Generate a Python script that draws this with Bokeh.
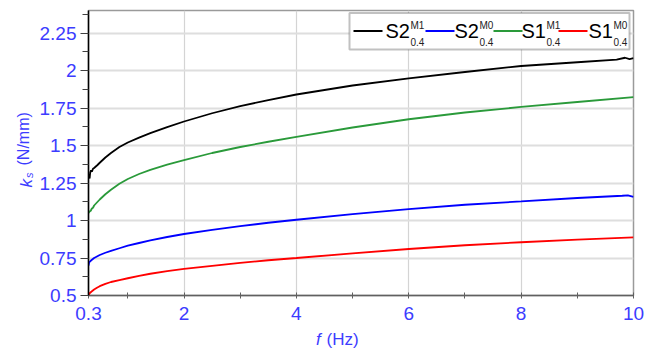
from bokeh.plotting import figure
from bokeh.layouts import column, row
from bokeh.models import (Range1d, FixedTicker, CustomJSTickFormatter, Label,
                          BoxAnnotation, Arrow)
from bokeh.embed import file_html
from bokeh.resources import INLINE
import math

# ---------------- data ----------------
x_black = [0.30, 0.31, 0.32, 0.33, 0.345, 0.36, 0.38, 0.40, 0.43, 0.46, 0.50, 0.60,
           0.70, 0.85, 1.0, 1.2, 1.4, 1.7, 2.0, 2.5, 3.0, 3.5, 4.0, 5.0, 6.0, 7.0,
           8.0, 9.0, 9.7, 9.85, 9.93, 10.0]
y_black = [1.31, 1.30, 1.28, 1.32, 1.335, 1.325, 1.345, 1.35, 1.36, 1.37, 1.385, 1.42,
           1.45, 1.49, 1.52, 1.552, 1.582, 1.623, 1.66, 1.715, 1.762, 1.803, 1.84, 1.90, 1.947, 1.99,
           2.03, 2.055, 2.072, 2.085, 2.076, 2.082]

x_green = [0.30, 0.32, 0.34, 0.36, 0.38, 0.40, 0.45, 0.50, 0.60, 0.70, 0.85, 1.0, 1.2,
           1.4, 1.7, 2.0, 2.5, 3.0, 3.5, 4.0, 5.0, 6.0, 7.0, 8.0, 9.0, 10.0]
y_green = [1.05, 1.06, 1.065, 1.08, 1.085, 1.10, 1.12, 1.14, 1.175, 1.205, 1.245, 1.277, 1.31,
           1.338, 1.372, 1.402, 1.45, 1.49, 1.525, 1.557, 1.62, 1.675, 1.72, 1.757, 1.79, 1.823]

x_blue = [0.30, 0.31, 0.33, 0.35, 0.40, 0.45, 0.50, 0.60, 0.70, 0.85, 1.0, 1.2, 1.4, 1.7,
          2.0, 2.5, 3.0, 3.5, 4.0, 5.0, 6.0, 7.0, 8.0, 9.0, 9.8, 9.9, 10.0]
y_blue = [0.70, 0.72, 0.728, 0.735, 0.75, 0.76, 0.77, 0.785, 0.797, 0.815, 0.832, 0.85, 0.867, 0.89,
          0.91, 0.937, 0.962, 0.985, 1.005, 1.042, 1.076, 1.105, 1.127, 1.15, 1.165, 1.168, 1.158]

x_red = [0.30, 0.32, 0.35, 0.40, 0.45, 0.50, 0.60, 0.70, 0.85, 1.0, 1.2, 1.4, 1.7, 2.0,
         2.5, 3.0, 3.5, 4.0, 5.0, 6.0, 7.0, 8.0, 9.0, 10.0]
y_red = [0.50, 0.515, 0.525, 0.54, 0.552, 0.562, 0.578, 0.59, 0.603, 0.615, 0.631, 0.645, 0.662, 0.677,
         0.698, 0.718, 0.735, 0.75, 0.781, 0.81, 0.835, 0.855, 0.872, 0.888]

series_x = [x_black, x_blue, x_green, x_red]
series_y = [y_black, y_blue, y_green, y_red]
series_colors = ["#000000", "#0000ff", "#2a9a3a", "#ff0000"]
series_names = ["S2", "S2", "S1", "S1"]
series_sup = ["M1", "M0", "M1", "M0"]
series_sub = ["0.4", "0.4", "0.4", "0.4"]

x_ticks = [0.3, 2, 4, 6, 8, 10]
x_minor = [1, 3, 5, 7, 9]
y_ticks = [0.5, 0.75, 1.0, 1.25, 1.5, 1.75, 2.0, 2.25]
y_minor = [0.625, 0.875, 1.125, 1.375, 1.625, 1.875, 2.125, 2.375]
x_lim = (0.3, 10)
y_lim = (0.5, 2.4)

# ---------------- styling / layout ----------------
BLUE = "#3c3cff"
FONT = "Liberation Sans"
W_TOTAL, H_TOTAL = 658, 349
W_YLAB = 36          # strip holding the y-axis title
H_MAIN = 330         # main plot height (x-axis title strip below it)
FL, FT, FR, FB = 86, 10, 633, 295   # frame edges in page pixels

p = figure(width=W_TOTAL - W_YLAB, height=H_MAIN, output_backend="svg", toolbar_location=None,
           x_range=Range1d(*x_lim), y_range=Range1d(*y_lim),
           min_border_left=FL - W_YLAB, min_border_right=W_TOTAL - FR,
           min_border_top=FT, min_border_bottom=H_MAIN - FB)
p.outline_line_color = "#9a9a9a"
p.outline_line_width = 1.5
p.background_fill_color = "white"
p.border_fill_color = "white"

fmt = CustomJSTickFormatter(code="return String(Number(tick.toFixed(3)));")

xa = p.xaxis[0]
xa.ticker = FixedTicker(ticks=x_ticks, minor_ticks=x_minor)
xa.formatter = fmt
xa.axis_line_color = "#606060"
xa.axis_line_width = 1.5
xa.major_tick_in = 3
xa.major_tick_out = 3
xa.minor_tick_in = 3
xa.minor_tick_out = 3
xa.major_tick_line_color = "#606060"
xa.minor_tick_line_color = "#606060"
xa.major_label_text_color = BLUE
xa.major_label_text_font = FONT
xa.major_label_text_font_size = "19px"
xa.major_label_standoff = 8

ya = p.yaxis[0]
ya.ticker = FixedTicker(ticks=y_ticks, minor_ticks=y_minor)
ya.formatter = fmt
ya.axis_line_color = "#000000"
ya.axis_line_width = 1.5
ya.major_tick_in = 0
ya.major_tick_out = 8
ya.minor_tick_in = 0
ya.minor_tick_out = 6
ya.major_tick_line_color = "#404040"
ya.minor_tick_line_color = "#404040"
ya.major_label_text_color = BLUE
ya.major_label_text_font = FONT
ya.major_label_text_font_size = "19px"
ya.major_label_standoff = 4

p.xgrid.grid_line_color = "#d4d4d4"
p.xgrid.grid_line_width = 1.2
p.ygrid.grid_line_color = "#dedede"
p.ygrid.grid_line_width = 1.8

for xs, ys, c in zip(series_x, series_y, series_colors):
    p.line(xs, ys, line_color=c, line_width=1.8)

# page pixel -> frame-relative screen units of the main plot
def sx(px):
    return px - FL
def sy(py):
    return FB - py

# legend (drawn inside the frame)
p.add_layout(BoxAnnotation(left=sx(347), right=sx(627), top=sy(12.5), bottom=sy(49),
                           left_units="screen", right_units="screen",
                           top_units="screen", bottom_units="screen",
                           fill_color="white", fill_alpha=1.0,
                           line_color="#333333", line_width=2))
LEG_FS = 20
item_line_x = [351, 423, 491, 556]
item_text_x = [383, 452, 519, 586]
for i in range(4):
    p.add_layout(Arrow(end=None, x_start=sx(item_line_x[i]), y_start=sy(30.5),
                       x_end=sx(item_line_x[i] + 29), y_end=sy(30.5),
                       start_units="screen", end_units="screen",
                       line_color=series_colors[i], line_width=2))
    p.add_layout(Label(x=sx(item_text_x[i]), y=sy(30), x_units="screen", y_units="screen",
                       text=series_names[i], text_font=FONT,
                       text_font_size=f"{LEG_FS}px", text_color="#000000",
                       text_baseline="middle"))
    sup_x = item_text_x[i] + 1.223 * LEG_FS + 0.5
    p.add_layout(Label(x=sx(sup_x), y=sy(25), x_units="screen", y_units="screen",
                       text=series_sup[i], text_font=FONT,
                       text_font_size="10px", text_color="#222222", text_baseline="middle"))
    p.add_layout(Label(x=sx(sup_x), y=sy(41), x_units="screen", y_units="screen",
                       text=series_sub[i], text_font=FONT,
                       text_font_size="10px", text_color="#222222", text_baseline="middle"))

# ---- strip with the y-axis title (k_s (N/mm)); its frame is aligned with the main frame ----
fy = figure(width=W_YLAB, height=H_MAIN, output_backend="svg", toolbar_location=None,
            x_axis_type=None, y_axis_type=None, min_border=0,
            x_range=Range1d(0, W_YLAB), y_range=Range1d(0, H_MAIN))
fy.outline_line_color = None
fy.grid.visible = False
def ysy(py):
    return FB - py
fy.add_layout(Label(x=25.5, y=ysy(187), x_units="screen", y_units="screen", text="k",
                    angle=math.pi / 2, text_font=FONT, text_font_style="italic",
                    text_font_size="17px", text_color=BLUE, text_baseline="middle"))
fy.add_layout(Label(x=28.5, y=ysy(177.5), x_units="screen", y_units="screen", text="s",
                    angle=math.pi / 2, text_font=FONT, text_font_style="italic",
                    text_font_size="11px", text_color=BLUE, text_baseline="middle"))
fy.add_layout(Label(x=23, y=ysy(165), x_units="screen", y_units="screen", text="(N/mm)",
                    angle=math.pi / 2, text_font=FONT,
                    text_font_size="16px", text_color=BLUE, text_baseline="middle"))

# ---- strip with the x-axis title (f (Hz)) ----
H_XLAB = H_TOTAL - H_MAIN
fx = figure(width=W_TOTAL, height=H_XLAB, output_backend="svg", toolbar_location=None,
            x_axis_type=None, y_axis_type=None, min_border=0,
            x_range=Range1d(0, W_TOTAL), y_range=Range1d(0, H_XLAB))
fx.outline_line_color = None
fx.grid.visible = False
def xsy(py):
    return H_TOTAL - py
fx.add_layout(Label(x=315.5, y=xsy(339), x_units="screen", y_units="screen", text="f",
                    text_font=FONT, text_font_style="italic", text_font_size="17px",
                    text_color=BLUE, text_baseline="middle"))
fx.add_layout(Label(x=326, y=xsy(339), x_units="screen", y_units="screen", text="(Hz)",
                    text_font=FONT, text_font_size="17px",
                    text_color=BLUE, text_baseline="middle"))

layout = column(row(fy, p, spacing=0), fx, spacing=0)
open("out.html", "w").write(file_html(layout, INLINE))
